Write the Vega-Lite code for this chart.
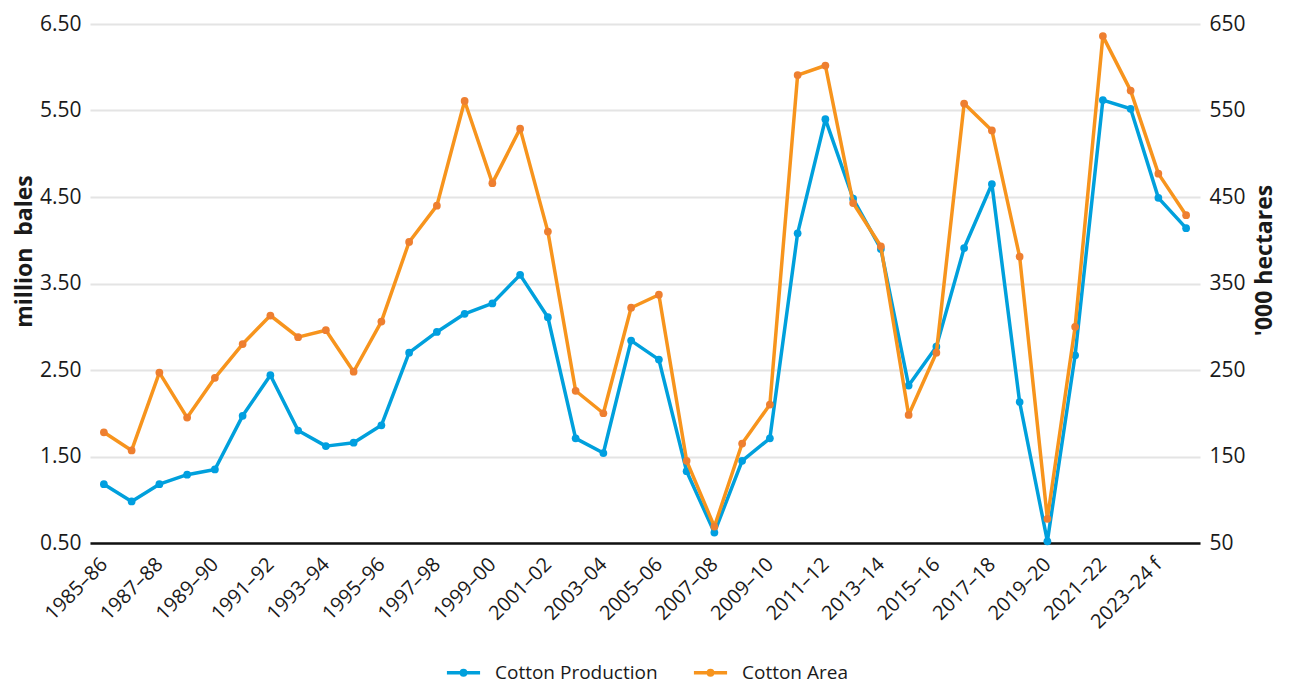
{
  "$schema": "https://vega.github.io/schema/vega-lite/v6.json",
  "width": 1110,
  "height": 519,
  "autosize": {"type": "none"},
  "padding": {"left": 90, "top": 24, "right": 93, "bottom": 143},
  "background": "white",
  "config": {
    "view": {"stroke": null},
    "font": "Open Sans",
    "axis": {"labelFont": "Open Sans", "titleFont": "Open Sans", "labelColor": "#1a1a1a", "titleColor": "#1a1a1a"},
    "legend": {"labelFont": "Open Sans", "labelColor": "#1a1a1a"}
  },
  "title": {
    "text": "Source: ABARES; ABS",
    "orient": "bottom",
    "anchor": "start",
    "frame": "group",
    "dx": -90,
    "offset": 62,
    "baseline": "top",
    "fontSize": 18,
    "fontWeight": "normal",
    "color": "#555555"
  },
  "data": {
    "values": [
      {"season": "1985–86", "production": 1.18, "area": 178},
      {"season": "1986–87", "production": 0.98, "area": 157},
      {"season": "1987–88", "production": 1.18, "area": 247},
      {"season": "1988–89", "production": 1.29, "area": 195},
      {"season": "1989–90", "production": 1.35, "area": 241},
      {"season": "1990–91", "production": 1.97, "area": 280},
      {"season": "1991–92", "production": 2.44, "area": 313},
      {"season": "1992–93", "production": 1.80, "area": 288},
      {"season": "1993–94", "production": 1.62, "area": 296},
      {"season": "1994–95", "production": 1.66, "area": 248},
      {"season": "1995–96", "production": 1.86, "area": 306},
      {"season": "1996–97", "production": 2.70, "area": 398},
      {"season": "1997–98", "production": 2.94, "area": 440},
      {"season": "1998–99", "production": 3.15, "area": 561},
      {"season": "1999–00", "production": 3.27, "area": 466},
      {"season": "2000–01", "production": 3.60, "area": 529},
      {"season": "2001–02", "production": 3.11, "area": 410},
      {"season": "2002–03", "production": 1.71, "area": 226},
      {"season": "2003–04", "production": 1.54, "area": 200},
      {"season": "2004–05", "production": 2.84, "area": 322},
      {"season": "2005–06", "production": 2.62, "area": 337},
      {"season": "2006–07", "production": 1.33, "area": 145},
      {"season": "2007–08", "production": 0.62, "area": 69},
      {"season": "2008–09", "production": 1.45, "area": 165},
      {"season": "2009–10", "production": 1.71, "area": 210},
      {"season": "2010–11", "production": 4.08, "area": 591},
      {"season": "2011–12", "production": 5.40, "area": 602},
      {"season": "2012–13", "production": 4.48, "area": 443},
      {"season": "2013–14", "production": 3.90, "area": 393},
      {"season": "2014–15", "production": 2.32, "area": 198},
      {"season": "2015–16", "production": 2.77, "area": 270},
      {"season": "2016–17", "production": 3.91, "area": 558},
      {"season": "2017–18", "production": 4.65, "area": 527},
      {"season": "2018–19", "production": 2.13, "area": 381},
      {"season": "2019–20", "production": 0.52, "area": 78},
      {"season": "2020–21", "production": 2.67, "area": 300},
      {"season": "2021–22", "production": 5.62, "area": 636},
      {"season": "2022–23", "production": 5.52, "area": 573},
      {"season": "2023–24 f", "production": 4.49, "area": 477},
      {"season": "2024–25 f", "production": 4.14, "area": 429}
    ]
  },
  "encoding": {
    "x": {
      "field": "season",
      "type": "ordinal",
      "sort": null,
      "scale": {"type": "point", "padding": 0.5},
      "axis": {
        "title": null,
        "values": ["1985–86", "1987–88", "1989–90", "1991–92", "1993–94", "1995–96", "1997–98", "1999–00", "2001–02", "2003–04", "2005–06", "2007–08", "2009–10", "2011–12", "2013–14", "2015–16", "2017–18", "2019–20", "2021–22", "2023–24 f"],
        "labelAngle": -45,
        "labelAlign": "right",
        "labelBaseline": "middle",
        "labelFontSize": 20,
        "labelPadding": 18,
        "ticks": false,
        "grid": false,
        "domainColor": "#111111",
        "domainWidth": 2.5
      }
    }
  },
  "layer": [
    {
      "layer": [
        {
          "mark": {"type": "line", "strokeWidth": 3.5, "strokeJoin": "round"},
          "encoding": {
            "y": {
              "field": "production",
              "type": "quantitative",
              "scale": {"domain": [0.5, 6.5], "nice": false, "zero": false},
              "axis": {
                "orient": "left",
                "title": "million \u00a0bales",
                "titleY": 227,
                "values": [0.5, 1.5, 2.5, 3.5, 4.5, 5.5, 6.5],
                "format": ".2f",
                "labelFontSize": 21,
                "titleFontSize": 23,
                "titleFontWeight": "bold",
                "labelPadding": 9,
                "titlePadding": 3,
                "domain": false,
                "ticks": false,
                "grid": true,
                "gridColor": "#e4e4e4",
                "gridWidth": 2
              }
            },
            "color": {
              "datum": "Cotton Production",
              "scale": {"domain": ["Cotton Production", "Cotton Area"], "range": ["#00a0dc", "#f7941d"]},
              "legend": {
                "orient": "none",
                "legendX": 355,
                "legendY": 630,
                "direction": "horizontal",
                "title": null,
                "labelFontSize": 19,
                "labelLimit": 0,
                "symbolType": "M-1,0L1,0M-0.13,0A0.13,0.13 0 1,0 0.13,0A0.13,0.13 0 1,0 -0.13,0Z",
                "symbolSize": 1100,
                "symbolStrokeWidth": 3.5,
                "columnPadding": 28,
                "labelOffset": 13,
                "encode": {
                  "symbols": {
                    "update": {
                      "fill": {"scale": "color", "field": "value"},
                      "stroke": {"scale": "color", "field": "value"}
                    }
                  }
                }
              }
            }
          }
        },
        {
          "mark": {"type": "point", "filled": true, "size": 60, "opacity": 1, "color": "#009fe0"},
          "encoding": {"y": {"field": "production", "type": "quantitative"}}
        }
      ]
    },
    {
      "layer": [
        {
          "mark": {"type": "line", "strokeWidth": 3.5, "strokeJoin": "round"},
          "encoding": {
            "y": {
              "field": "area",
              "type": "quantitative",
              "scale": {"domain": [50, 650], "nice": false, "zero": false},
              "axis": {
                "orient": "right",
                "title": "'000 hectares",
                "titleY": 236,
                "values": [50, 150, 250, 350, 450, 550, 650],
                "format": "d",
                "labelFontSize": 21,
                "titleFontSize": 23,
                "titleFontWeight": "bold",
                "titleAngle": 270,
                "titleBaseline": "top",
                "labelPadding": 9,
                "titlePadding": 8,
                "domain": false,
                "ticks": false,
                "grid": false
              }
            },
            "color": {"datum": "Cotton Area"}
          }
        },
        {
          "mark": {"type": "point", "filled": true, "size": 60, "opacity": 1, "color": "#ee7f30"},
          "encoding": {"y": {"field": "area", "type": "quantitative"}}
        }
      ]
    }
  ],
  "resolve": {"scale": {"y": "independent"}}
}
